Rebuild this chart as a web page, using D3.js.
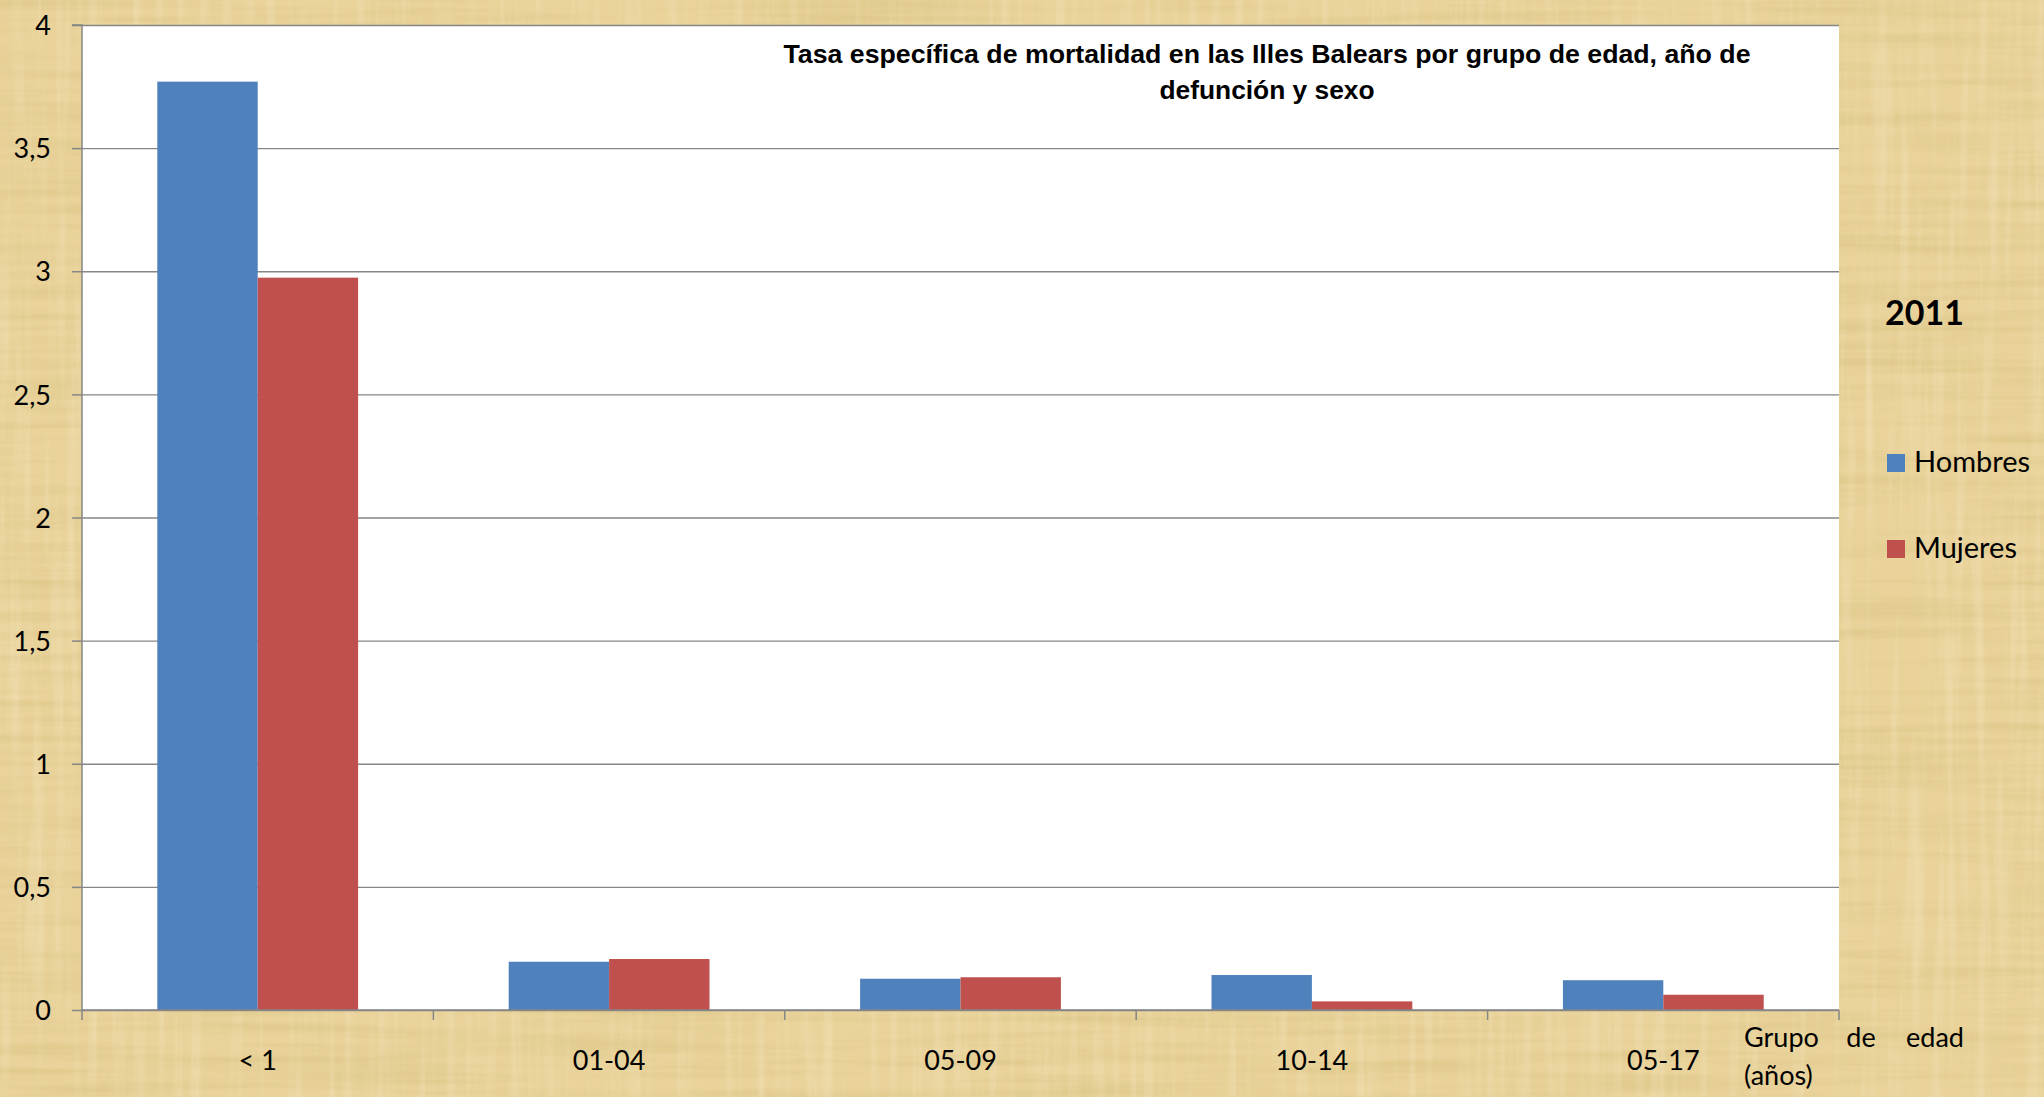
<!DOCTYPE html>
<html>
<head>
<meta charset="utf-8">
<script src="https://cdn.jsdelivr.net/npm/d3@7"></script>
<style>
  html, body { margin: 0; padding: 0; overflow: hidden; background: #ecd7a2; }
  svg { display: block; }
</style>
</head>
<body>
<div id="chart"></div>
<script>
// -------- DATEN --------
const categories = ["< 1", "01-04", "05-09", "10-14", "05-17"];
const seriesNames = ["Hombres", "Mujeres"];
const hombres = [3.77, 0.196, 0.127, 0.142, 0.121];
const mujeres = [2.974, 0.207, 0.133, 0.035, 0.062];
const yTicks = [0, 0.5, 1, 1.5, 2, 2.5, 3, 3.5, 4];
const titleLines = ["Tasa específica de mortalidad en las Illes Balears por grupo de edad, año de", "defunción y sexo"];
const legendTitle = "2011";
const axisTitleWords = ["Grupo", "de", "edad"];
const axisTitleLine2 = "(años)";

const colors = { Hombres: "#4f81bd", Mujeres: "#c0504d" };

// -------- LAYOUT --------
const width = 2044, height = 1097;
const plot = { left: 82, top: 25, right: 1839, bottom: 1010 };
const labelFont = "Lato, 'Open Sans', sans-serif";

const svg = d3.select("#chart").append("svg")
  .attr("width", width)
  .attr("height", height);

// --- Papyrus-Hintergrund ---
const defs = svg.append("defs");
const fH = defs.append("filter").attr("id", "fibersH").attr("x", 0).attr("y", 0).attr("width", "100%").attr("height", "100%");
fH.append("feTurbulence").attr("type", "fractalNoise").attr("baseFrequency", "0.004 0.09").attr("numOctaves", 3).attr("seed", 4).attr("result", "n");
fH.append("feColorMatrix").attr("type", "matrix")
  .attr("values", "0 0 0 0 0.55  0 0 0 0 0.42  0 0 0 0 0.12  1.1 0 0 0 -0.45");
const fV = defs.append("filter").attr("id", "fibersV").attr("x", 0).attr("y", 0).attr("width", "100%").attr("height", "100%");
fV.append("feTurbulence").attr("type", "fractalNoise").attr("baseFrequency", "0.09 0.004").attr("numOctaves", 3).attr("seed", 9).attr("result", "n");
fV.append("feColorMatrix").attr("type", "matrix")
  .attr("values", "0 0 0 0 0.98  0 0 0 0 0.9  0 0 0 0 0.7  1.1 0 0 0 -0.5");

svg.append("rect").attr("width", width).attr("height", height).attr("fill", "#e9d39b");
svg.append("rect").attr("width", width).attr("height", height).attr("filter", "url(#fibersH)").attr("opacity", 0.55);
svg.append("rect").attr("width", width).attr("height", height).attr("filter", "url(#fibersV)").attr("opacity", 0.55);

// --- Plotfläche ---
svg.append("rect")
  .attr("x", plot.left).attr("y", plot.top)
  .attr("width", plot.right - plot.left).attr("height", plot.bottom - plot.top)
  .attr("fill", "#ffffff");

// --- Skalen ---
const x0 = d3.scaleBand().domain(categories).range([plot.left, plot.right]).padding(0);
const x1 = d3.scaleBand().domain(seriesNames).range([0, x0.bandwidth()]).paddingInner(0).paddingOuter(0.75);
const y = d3.scaleLinear().domain([0, 4]).range([plot.bottom, plot.top]);

const fmt = d => String(d).replace(".", ",");

// Gitterlinien
const gridG = svg.append("g").attr("transform", `translate(${plot.left},0)`)
  .call(d3.axisLeft(y).tickValues(yTicks).tickSize(-(plot.right - plot.left)).tickFormat(""));
gridG.select(".domain").remove();
gridG.selectAll(".tick line").attr("stroke", "#868686").attr("stroke-width", 1.3);

// Balken
const rows = categories.map((c, i) => ({ cat: c, values: [
  { key: "Hombres", value: hombres[i] },
  { key: "Mujeres", value: mujeres[i] }
]}));

svg.append("g").selectAll("g")
  .data(rows)
  .join("g")
    .attr("transform", d => `translate(${x0(d.cat)},0)`)
  .selectAll("rect")
  .data(d => d.values)
  .join("rect")
    .attr("x", d => x1(d.key))
    .attr("width", x1.bandwidth())
    .attr("y", d => y(d.value))
    .attr("height", d => y(0) - y(d.value))
    .attr("fill", d => colors[d.key]);

// Y-Achse
const yAxisG = svg.append("g").attr("transform", `translate(${plot.left},0)`)
  .call(d3.axisLeft(y).tickValues(yTicks).tickSize(10).tickPadding(21).tickFormat(fmt));
yAxisG.selectAll("path, line").attr("stroke", "#868686").attr("stroke-width", 1.5);
yAxisG.select(".domain").attr("d", `M-10,${plot.top}H0V${plot.bottom}`);
yAxisG.selectAll(".tick text")
  .attr("font-family", labelFont).attr("font-size", 27).attr("fill", "#000")
  .attr("dy", "0.36em");

// X-Achse: Beschriftung in der Mitte, Striche an den Grenzen
const xAxisG = svg.append("g").attr("transform", `translate(0,${plot.bottom})`)
  .call(d3.axisBottom(x0).tickSize(0).tickPadding(0));
xAxisG.select(".domain").remove();
xAxisG.selectAll(".tick text")
  .attr("font-family", labelFont).attr("font-size", 27).attr("fill", "#000")
  .attr("y", 60).attr("dy", 0);

const bounds = categories.map(c => x0(c)).concat([x0.range()[1]]);
xAxisG.append("line")
  .attr("x1", plot.left).attr("x2", plot.right)
  .attr("stroke", "#868686").attr("stroke-width", 1.5);
xAxisG.selectAll(".bound")
  .data(bounds)
  .join("line")
    .attr("class", "bound")
    .attr("x1", d => d).attr("x2", d => d)
    .attr("y1", 0).attr("y2", 10)
    .attr("stroke", "#868686").attr("stroke-width", 1.5);

// Achsentitel (Blocksatz)
const wordX = [1744, 1861, 1964];
svg.append("g").selectAll("text")
  .data(axisTitleWords)
  .join("text")
    .attr("x", (d, i) => wordX[i])
    .attr("y", 1047)
    .attr("text-anchor", (d, i) => i === 0 ? "start" : (i === 2 ? "end" : "middle"))
    .attr("font-family", labelFont).attr("font-size", 27)
    .text(d => d);
svg.append("text")
  .attr("x", 1744).attr("y", 1085)
  .attr("font-family", labelFont).attr("font-size", 27)
  .text(axisTitleLine2);

// Titel
const titleG = svg.append("g");
titleG.append("text")
  .attr("x", 1267).attr("y", 63)
  .attr("text-anchor", "middle")
  .attr("font-family", "'Liberation Sans', Arial, sans-serif")
  .attr("font-weight", "bold").attr("font-size", 25)
  .attr("textLength", 967).attr("lengthAdjust", "spacingAndGlyphs")
  .text(titleLines[0]);
titleG.append("text")
  .attr("x", 1267).attr("y", 99)
  .attr("text-anchor", "middle")
  .attr("font-family", "'Liberation Sans', Arial, sans-serif")
  .attr("font-weight", "bold").attr("font-size", 25)
  .attr("textLength", 215).attr("lengthAdjust", "spacingAndGlyphs")
  .text(titleLines[1]);

// Legende
svg.append("text")
  .attr("x", 1885).attr("y", 325)
  .attr("font-family", labelFont).attr("font-weight", "bold").attr("font-size", 34)
  .text(legendTitle);

const legendY = [454, 540];
const legend = svg.append("g").selectAll("g")
  .data(seriesNames)
  .join("g")
    .attr("transform", (d, i) => `translate(1887,${legendY[i]})`);
legend.append("rect")
  .attr("width", 18).attr("height", 18)
  .attr("fill", d => colors[d]);
legend.append("text")
  .attr("x", 27).attr("y", 18)
  .attr("font-family", labelFont).attr("font-size", 29)
  .text(d => d);
</script>
</body>
</html>
